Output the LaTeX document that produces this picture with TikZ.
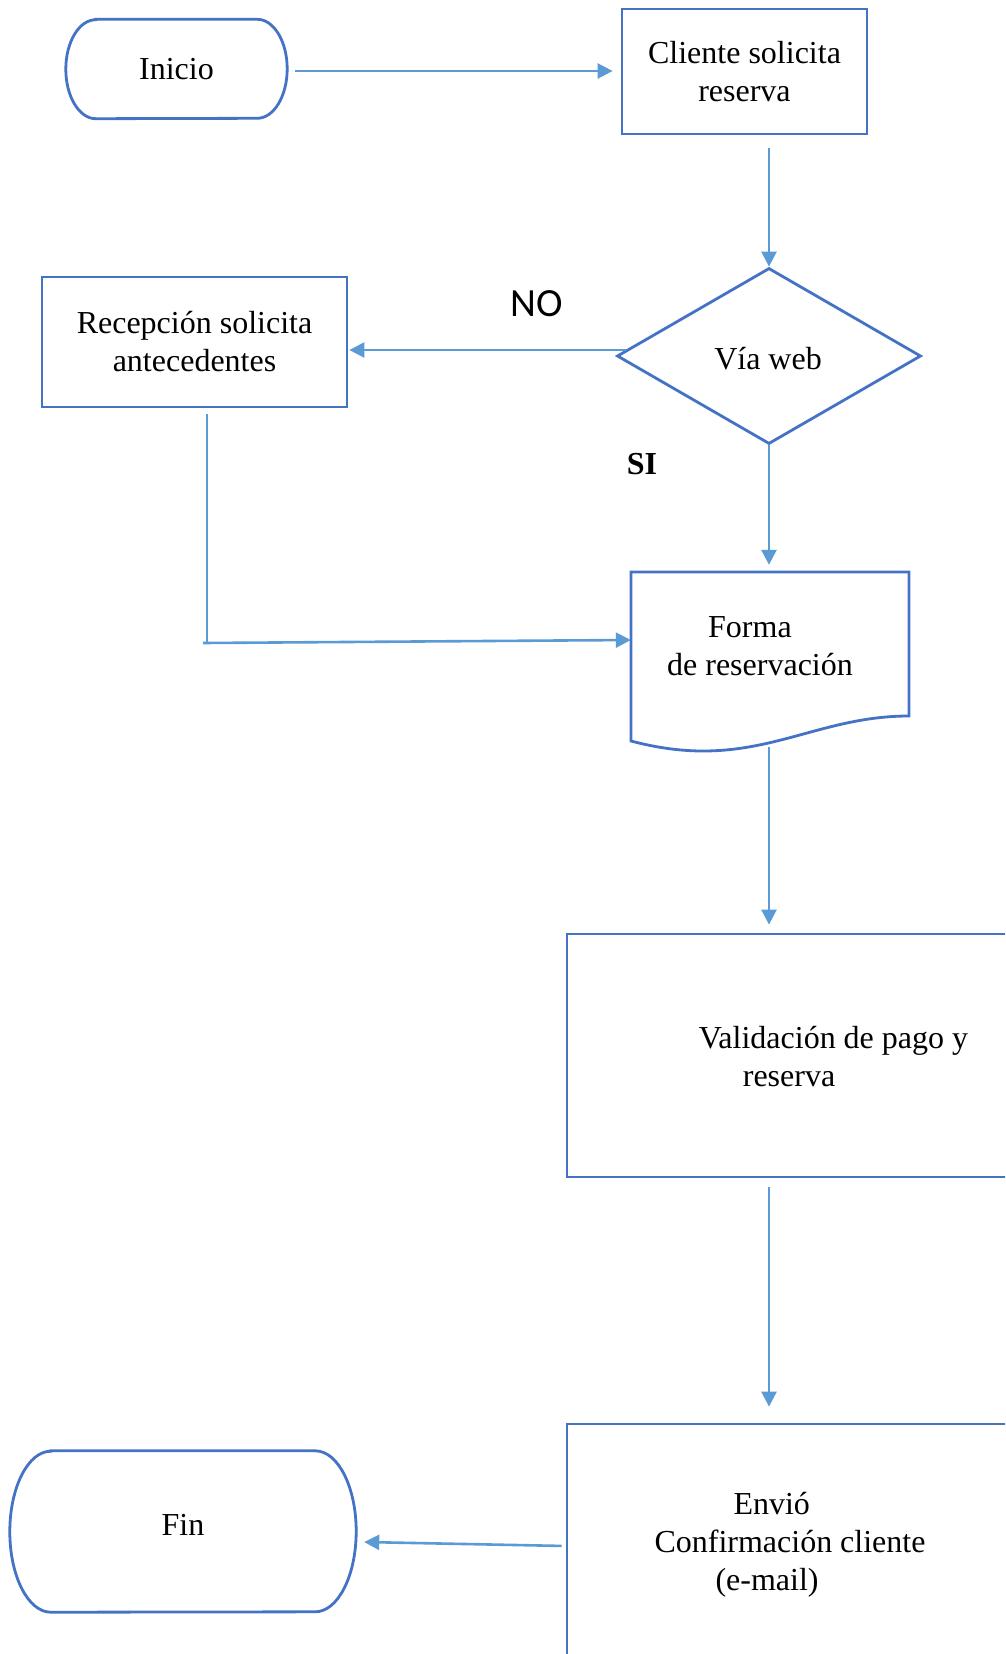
\documentclass[tikz,border=0pt]{standalone}
\usepackage{fontspec}
\setmainfont{Liberation Serif}
\newfontfamily\nofont{Carlito}
\usetikzlibrary{arrows.meta,shapes.geometric,calc}
\definecolor{shapeblue}{HTML}{4472C4}
\definecolor{arrowblue}{HTML}{5B9BD5}
\begin{document}
\begin{tikzpicture}[x=1pt,y=-1pt,
  box/.style={draw=shapeblue, line width=2.8pt, rectangle, inner sep=0pt},
  ghost/.style={rectangle, inner sep=0pt, draw=none},
  outline/.style={draw=shapeblue, line width=2.8pt},
  txt/.style={font=\fontsize{32}{38}\selectfont, inner sep=0pt},
  arr/.style={draw=arrowblue, line width=2.6pt, -{Triangle[length=15pt,width=15pt]}},
  conn/.style={draw=arrowblue, line width=2.2pt}]
\useasboundingbox (0,0) rectangle (1005,1654);
\clip (0,0) rectangle (1005,1654);
\fill[white] (0,0) rectangle (1005,1654);

% Inicio (terminal)
\node[ghost, minimum width=221pt, minimum height=99pt, txt] (inicio) at (176.5,69) {Inicio};
\draw[outline] ([xshift=30pt]inicio.north west) -- ([xshift=-30pt]inicio.north east)
  arc[start angle=90, end angle=-90, x radius=30pt, y radius=49.5pt]
  -- ([xshift=30pt]inicio.south west)
  arc[start angle=270, end angle=90, x radius=30pt, y radius=49.5pt] -- cycle;

% Cliente solicita reserva
\node[box, minimum width=245pt, minimum height=125pt, txt, align=center] (cliente) at (744.5,71.5) {Cliente solicita\\reserva};

% Decision
\node[draw=shapeblue, line width=2.8pt, diamond, minimum width=304pt, minimum height=176pt, inner sep=0pt] (via) at (769,356) {};
\node[txt] (viaT) at (768,359) {Vía web};

% Recepcion
\node[box, minimum width=305pt, minimum height=130pt, txt, align=center] (recep) at (194.5,342) {Recepción solicita\\antecedentes};

% Forma de reservacion (document)
\node[ghost, minimum width=278pt, minimum height=179pt] (forma) at (770,661.5) {};
\draw[outline] (631,741) -- (631,572) -- (909,572) -- (909,716)
  .. controls (830,716) and (780,751) .. (703,751)
  .. controls (675,751) and (650,746) .. (631,741) -- cycle;
\node[txt, align=left] (formaT) at (760,646) {\hspace*{41pt}Forma\\de reservación};

% Validacion
\node[box, minimum width=533pt, minimum height=243pt] (valid) at (833.5,1055.5) {};
\node[txt, align=left] (validT) at (833.5,1057) {Validación de pago y\\\hspace*{44pt}reserva};

% Envio
\node[box, minimum width=533pt, minimum height=244pt] (envio) at (833.5,1546) {};
\node[txt, align=left] (envioT) at (790,1544.5) {\hspace*{79pt}Envió\\Confirmación cliente\\\hspace*{61pt}(e-mail)};

% Fin (terminal)
\node[ghost, minimum width=346pt, minimum height=161pt] (fin) at (183,1531.5) {};
\draw[outline] ([xshift=41pt]fin.north west) -- ([xshift=-41pt]fin.north east)
  arc[start angle=90, end angle=-90, x radius=41pt, y radius=80.5pt]
  -- ([xshift=41pt]fin.south west)
  arc[start angle=270, end angle=90, x radius=41pt, y radius=80.5pt] -- cycle;
\node[txt] (finT) at (183,1525) {Fin};

% Labels
\node[font=\nofont\fontsize{40}{48}\selectfont, inner sep=0pt] (no) at (537,304) {NO};
\node[font=\bfseries\fontsize{32}{38}\selectfont, inner sep=0pt] (si) at (642,464) {SI};

% Connectors
\draw[arr] ([xshift=8pt,yshift=-2pt]inicio.east) -- ([xshift=-8pt,yshift=-2pt]inicio.east -| cliente.west);
\draw[arr, shorten <=13pt] (cliente.south -| via.north) -- (via.north);
\draw[arr, shorten >=1pt] ([xshift=10pt,yshift=6pt]via.west) -- ([yshift=6pt]via.west -| recep.east);
\draw[arr, shorten >=7pt] (via.south) -- (via.south |- forma.north);
\coordinate (corner) at (207,643);
\draw[conn] ([xshift=12.5pt,yshift=-6pt]recep.south) -- (corner);
\draw[arr] ([xshift=-4pt]corner) -- ([yshift=3pt]corner -| forma.west);
\draw[arr, shorten <=-4pt, shorten >=8pt] (forma.south -| via.south) -- (valid.north -| via.south);
\draw[arr, shorten <=9pt, shorten >=16pt] (valid.south -| via.south) -- (envio.north -| via.south);
\draw[arr, shorten <=4pt] (envio.west) -- ([xshift=8pt,yshift=-10.5pt]fin.east);
\end{tikzpicture}
\end{document}
